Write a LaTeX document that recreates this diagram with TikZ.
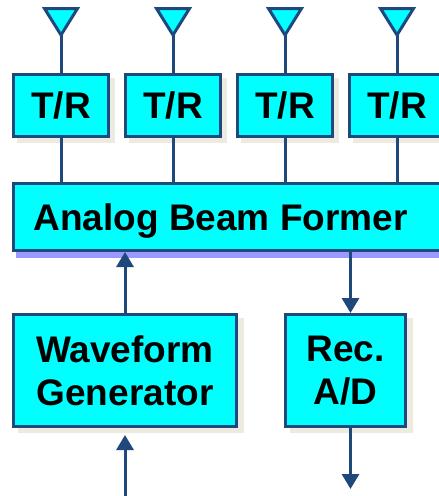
\documentclass[tikz,border=0pt]{standalone}
\usepackage{fontspec}
\setmainfont{Liberation Sans}
\usetikzlibrary{arrows.meta,shadows}
\definecolor{ln}{HTML}{1F497D}
\definecolor{cy}{HTML}{00FFFF}
\definecolor{shb}{HTML}{EDEBE0}
\definecolor{shl}{HTML}{9999FF}
\tikzset{
  lbl/.style={font=\bfseries\fontsize{37}{43}\selectfont, align=center, inner sep=0pt},
  box/.style={draw=ln, line width=3pt, fill=cy, lbl},
  sh/.style 2 args={drop shadow={shadow xshift=#1pt, shadow yshift=-#2pt, fill=shb, draw=shb, line width=3pt, opacity=1}},
  shblue/.style={drop shadow={shadow xshift=4pt, shadow yshift=-6pt, fill=shl, draw=shl, line width=3pt, opacity=1}},
  wire/.style={draw=ln, line width=3pt},
  arr/.style={wire, -{Triangle[width=17pt,length=15pt]}},
  ant/.style={draw=ln, line width=3pt, fill=cy, line join=miter}
}
\begin{document}
\begin{tikzpicture}[x=1pt,y=-1pt]
\useasboundingbox (0,0) rectangle (439,496);
\clip (0,0) rectangle (439,496);
\fill[white] (0,0) rectangle (439,496);
% beam former
\node[box, shblue, minimum width=431pt, minimum height=67pt] (bf) at (229,217) {};
\node[lbl, anchor=base] (bft) at (220.5,230) {Analog Beam Former};
% T/R modules and antennas
\foreach \i/\x in {1/61,2/173,3/285,4/397} {
  \node[box, sh={5}{5}, minimum width=95pt, minimum height=62pt] (tr\i) at (\x,105.5) {T/R};
  \coordinate (ant\i) at (\x,35);
  \draw[ant] (\x-16.5,8.5) -- (\x+16.5,8.5) -- (ant\i) -- cycle;
  \draw[wire] (ant\i) -- (tr\i.north);
  \draw[wire] (tr\i.south) -- (tr\i.south |- bf.north);
}
% lower blocks
\node[box, sh={6}{5}, minimum width=223pt, minimum height=112pt] (wg) at (125,370.5) {Waveform\\Generator};
\node[box, sh={6}{5}, minimum width=120pt, minimum height=112pt] (rec) at (345.5,370.5) {Rec.\\A/D};
\coordinate (rx) at (350.5,0);
\coordinate (wgsrc) at (125,500);
\coordinate (wgin) at (125,435);
\coordinate (recout) at (350.5,489);
\draw[arr] (wg.north) -- (wg.north |- bf.south);
\draw[arr] (bf.south -| rx) -- (rec.north -| rx);
\draw[arr] (wgsrc) -- (wgin);
\draw[arr] (rec.south -| rx) -- (recout);
\end{tikzpicture}
\end{document}
